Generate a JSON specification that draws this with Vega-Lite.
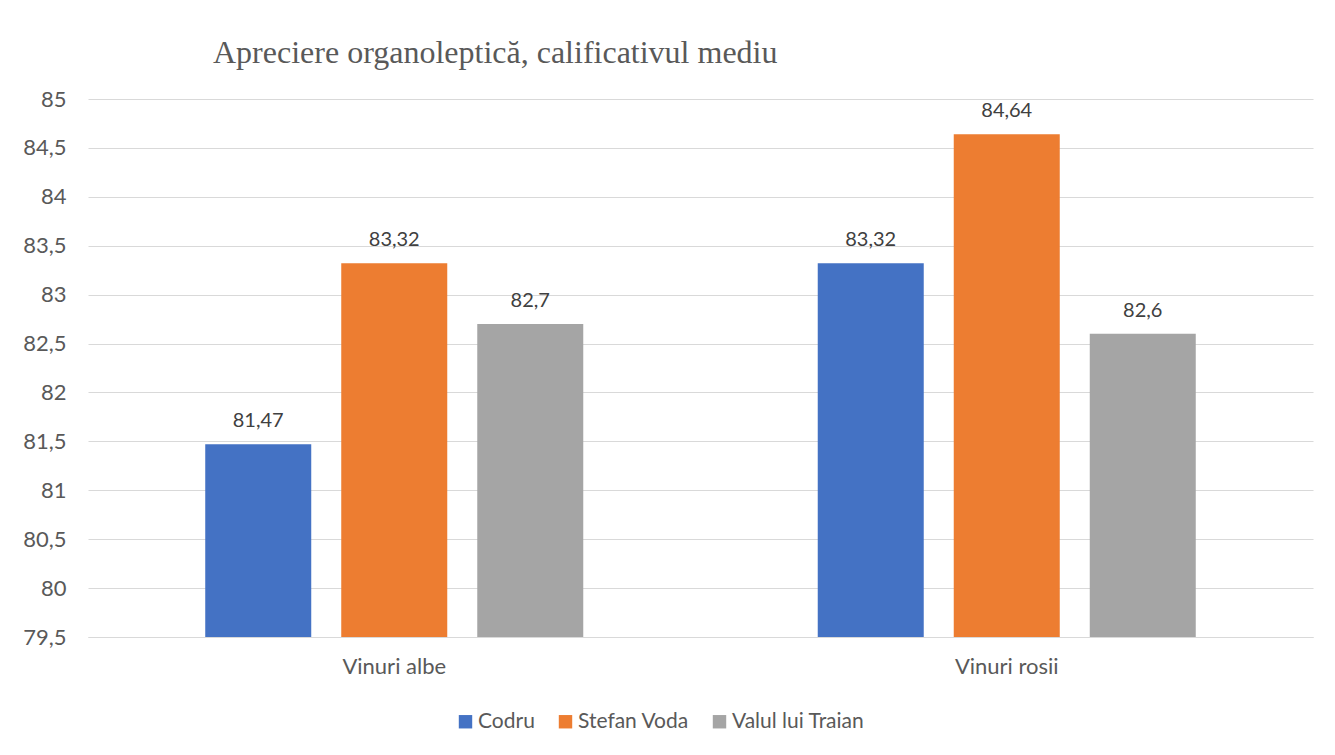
{
  "$schema": "https://vega.github.io/schema/vega-lite/v6.json",
  "autosize": {"type": "none"},
  "width": 1225,
  "height": 538,
  "padding": {"left": 88, "top": 99, "right": 22, "bottom": 118},
  "background": "white",
  "title": {
    "text": "Apreciere organoleptică, calificativul mediu",
    "anchor": "start",
    "frame": "group",
    "dx": 125,
    "offset": 18,
    "font": "Liberation Serif",
    "fontSize": 32,
    "fontWeight": "normal",
    "color": "#595959"
  },
  "data": {
    "values": [
      {"categorie": "Vinuri albe", "regiune": "Codru", "valoare": 81.47},
      {"categorie": "Vinuri albe", "regiune": "Stefan Voda", "valoare": 83.32},
      {"categorie": "Vinuri albe", "regiune": "Valul lui Traian", "valoare": 82.7},
      {"categorie": "Vinuri rosii", "regiune": "Codru", "valoare": 83.32},
      {"categorie": "Vinuri rosii", "regiune": "Stefan Voda", "valoare": 84.64},
      {"categorie": "Vinuri rosii", "regiune": "Valul lui Traian", "valoare": 82.6}
    ]
  },
  "encoding": {
    "x": {
      "field": "categorie",
      "type": "nominal",
      "sort": ["Vinuri albe", "Vinuri rosii"],
      "scale": {"paddingInner": 0, "paddingOuter": 0},
      "axis": {
        "title": null,
        "labelAngle": 0,
        "ticks": false,
        "domain": true,
        "domainColor": "#d9d9d9",
        "labelPadding": 19,
        "labelFont": "Lato",
        "labelFontSize": 22,
        "labelColor": "#595959"
      }
    },
    "xOffset": {
      "field": "regiune",
      "type": "nominal",
      "sort": ["Codru", "Stefan Voda", "Valul lui Traian"],
      "scale": {"paddingInner": 0.2206, "paddingOuter": 0.862}
    },
    "y": {
      "field": "valoare",
      "type": "quantitative",
      "scale": {"domain": [79.5, 85], "zero": false, "nice": false},
      "axis": {
        "title": null,
        "values": [79.5, 80, 80.5, 81, 81.5, 82, 82.5, 83, 83.5, 84, 84.5, 85],
        "labelExpr": "replace(format(datum.value, '.1~f'), '.', ',')",
        "ticks": false,
        "domain": false,
        "grid": true,
        "gridColor": "#d9d9d9",
        "gridWidth": 1,
        "labelPadding": 22,
        "labelFont": "Lato",
        "labelFontSize": 22,
        "labelColor": "#595959"
      }
    }
  },
  "layer": [
    {
      "mark": {"type": "bar", "clip": true},
      "encoding": {
        "y2": {"datum": 79.5},
        "color": {
          "field": "regiune",
          "type": "nominal",
          "sort": ["Codru", "Stefan Voda", "Valul lui Traian"],
          "scale": {
            "domain": ["Codru", "Stefan Voda", "Valul lui Traian"],
            "range": ["#4472c4", "#ed7d31", "#a5a5a5"]
          },
          "legend": {
            "title": null,
            "orient": "none",
            "direction": "horizontal",
            "legendX": 367,
            "legendY": 612,
            "symbolType": "square",
            "symbolSize": 180,
            "symbolStrokeWidth": 0,
            "labelFont": "Lato",
            "labelFontSize": 21,
            "labelColor": "#595959",
            "labelOffset": 2,
            "columnPadding": 20
          }
        }
      }
    },
    {
      "mark": {
        "type": "text",
        "baseline": "bottom",
        "dy": -13,
        "font": "Lato",
        "fontSize": 20,
        "color": "#404040"
      },
      "encoding": {
        "text": {"field": "valoare", "type": "quantitative", "format": ".2~f", "formatType": "number"}
      }
    }
  ],
  "config": {
    "view": {"stroke": null},
    "locale": {"number": {"decimal": ",", "thousands": ".", "grouping": [3], "currency": ["", " lei"]}}
  }
}
